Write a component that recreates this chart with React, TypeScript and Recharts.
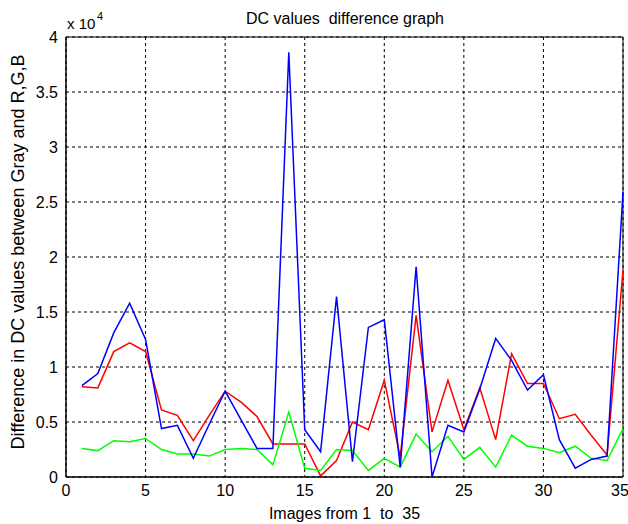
import React from 'react';
import { CartesianGrid, Line, LineChart, ReferenceArea, XAxis, YAxis } from 'recharts';

// image index 1..35
const images = [
    1, 2, 3, 4, 5, 6, 7, 8, 9, 10, 11, 12, 13, 14, 15, 16, 17, 18, 19, 20, 21, 22, 23, 24, 25, 26, 27, 28, 29, 30, 31, 32,
    33, 34, 35,
];

const redDiff = [
    8200, 8100, 11400, 12200, 11400, 6100, 5600, 3300, 5600, 7800, 6800, 5500, 3000, 3000, 3000, 100, 1500, 5000, 4300,
    8800, 1800, 14700, 4100, 8800, 4300, 8100, 3400, 11200, 8500, 8500, 5300, 5700, 3800, 2000, 18800,
];

const greenDiff = [
    2600, 2400, 3300, 3200, 3500, 2500, 2100, 2100, 1900, 2500, 2600, 2500, 1100, 5900, 800, 600, 2500, 2400, 600, 1700,
    900, 3900, 2300, 3700, 1600, 2700, 900, 3800, 2800, 2600, 2200, 2800, 1700, 1500, 4400,
];

const blueDiff = [
    8300, 9400, 13100, 15800, 12500, 4400, 4700, 1700, 4800, 7800, 5200, 2600, 2600, 38600, 4300, 2300, 16400, 1400,
    13600, 14300, 900, 19100, 0, 4700, 4100, 8000, 12600, 10600, 7900, 9300, 3400, 800, 1600, 1900, 25900,
];

const xTicks = [0, 5, 10, 15, 20, 25, 30, 35];
const yTicks = [0, 5000, 10000, 15000, 20000, 25000, 30000, 35000, 40000];

const rows = images.map((img, i) => ({
    img,
    r: redDiff[i],
    g: greenDiff[i],
    b: blueDiff[i],
}));

const FONT = '"Liberation Sans", Arial, Helvetica, sans-serif';

export default function App() {
    return (
        <div style={{ position: 'absolute', left: 0, top: 0, width: 628, height: 524, background: '#fff', fontFamily: FONT }}>
            <LineChart width={628} height={524} data={rows} margin={{ top: 37, right: 5, bottom: 0, left: 0 }}>
                <CartesianGrid stroke="#000" strokeDasharray="3 3" />
                <XAxis
                    dataKey="img"
                    type="number"
                    domain={[0, 35]}
                    ticks={xTicks}
                    height={47}
                    axisLine={{ stroke: '#000' }}
                    tickLine={false}
                    tick={{ fill: '#000', fontSize: 16, fontFamily: FONT }}
                    label={{
                        content: () => (
                            <text x={344.5} y={519} textAnchor="middle" fontSize={16} fontFamily={FONT} fill="#000">
                                {'Images from 1 \u00A0to \u00A035'}
                            </text>
                        ),
                    }}
                />
                <YAxis
                    type="number"
                    domain={[0, 40000]}
                    ticks={yTicks}
                    width={66}
                    axisLine={{ stroke: '#000' }}
                    tickLine={false}
                    tick={{ fill: '#000', fontSize: 16, fontFamily: FONT }}
                    tickFormatter={(v: number) => String(v / 10000)}
                    label={{
                        content: () => (
                            <text
                                x={24}
                                y={252}
                                transform="rotate(-90 24 252)"
                                textAnchor="middle"
                                fontSize={18}
                                fontFamily={FONT}
                                fill="#000"
                            >
                                Difference in DC values between Gray and R,G,B
                            </text>
                        ),
                    }}
                />
                <ReferenceArea x1={0} x2={35} y1={0} y2={40000} fill="none" stroke="#000" strokeWidth={1} />
                <Line dataKey="r" stroke="#ff0000" strokeWidth={1.5} dot={false} isAnimationActive={false} />
                <Line dataKey="g" stroke="#00ff00" strokeWidth={1.5} dot={false} isAnimationActive={false} />
                <Line dataKey="b" stroke="#0000ff" strokeWidth={1.5} dot={false} isAnimationActive={false} />
            </LineChart>
            <svg
                width={628}
                height={40}
                style={{ position: 'absolute', left: 0, top: 0, pointerEvents: 'none' }}
            >
                <text x={345} y={24} textAnchor="middle" fontSize={16} fontFamily={FONT} fill="#000" style={{ whiteSpace: 'pre' }}>
                    {'DC values  difference graph'}
                </text>
                <text x={67} y={29} fontSize={15} fontFamily={FONT} fill="#000">
                    x 10
                </text>
                <text x={97} y={20} fontSize={11} fontFamily={FONT} fill="#000">
                    4
                </text>
            </svg>
        </div>
    );
}
